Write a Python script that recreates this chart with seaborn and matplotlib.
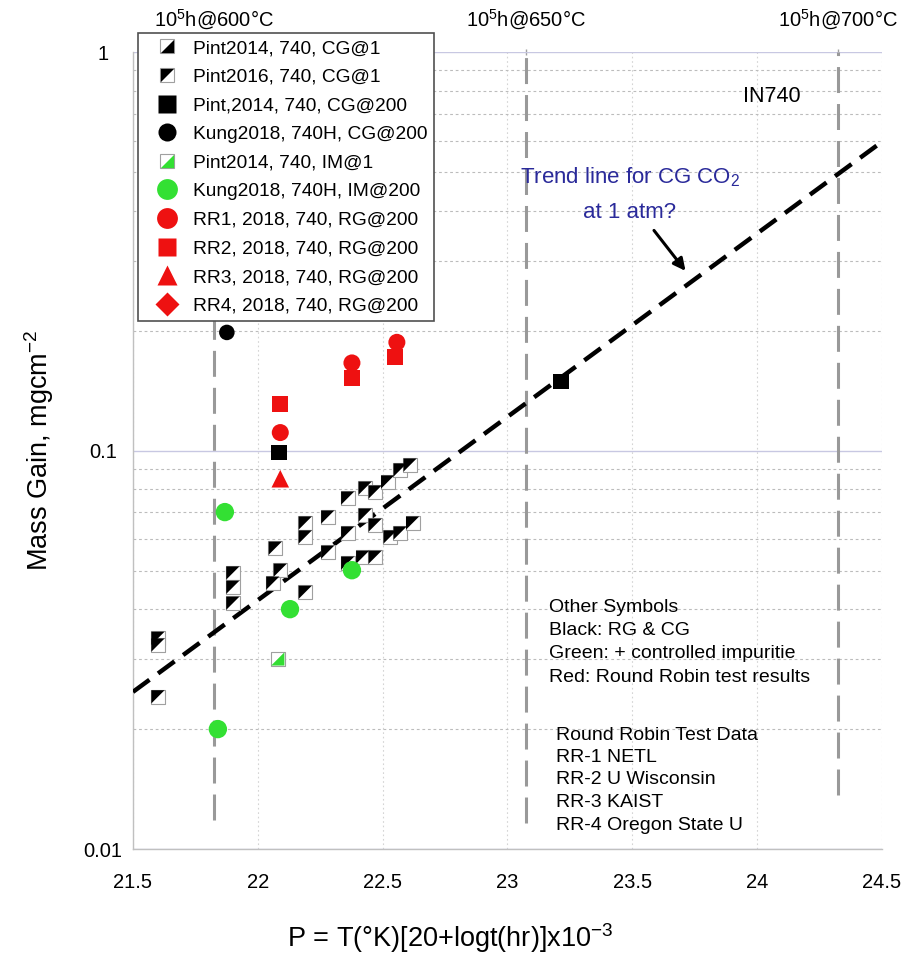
import numpy as np
import pandas as pd
import matplotlib
matplotlib.use("Agg")
import matplotlib.pyplot as plt
import seaborn as sns
from matplotlib.lines import Line2D
from matplotlib.ticker import LogLocator, FixedLocator, NullFormatter

# --- data (P parameter, mass gain mg/cm2) ---
pint2016_cg1_P = [21.60, 21.60, 21.60, 21.90, 21.90, 21.90, 22.07, 22.06, 22.19, 22.19, 22.19,
                  22.28, 22.28, 22.36, 22.36, 22.36, 22.43, 22.43, 22.47, 22.47, 22.52, 22.57]
pint2016_cg1_M = [0.0338, 0.0325, 0.0241, 0.0493, 0.0454, 0.0414, 0.0569, 0.0465, 0.0658, 0.0607, 0.0441,
                  0.0681, 0.0556, 0.0760, 0.0621, 0.0522, 0.0805, 0.0689, 0.0787, 0.0650, 0.0834, 0.0894]
pint2014_cg1_P = [22.09, 22.42, 22.47, 22.53, 22.57, 22.61, 22.62]
pint2014_cg1_M = [0.0501, 0.0540, 0.0540, 0.0607, 0.0621, 0.0920, 0.0658]
pint2014_cg200_P = [22.085, 23.214]
pint2014_cg200_M = [0.099, 0.149]
kung_cg200_P = [21.876]
kung_cg200_M = [0.198]
pint2014_im1_P = [22.08]
pint2014_im1_M = [0.030]
kung_im200_P = [21.868, 21.84, 22.129, 22.377]
kung_im200_M = [0.0701, 0.020, 0.040, 0.0501]
rr1_P = [22.09, 22.377, 22.557]
rr1_M = [0.111, 0.166, 0.187]
rr2_P = [22.09, 22.377, 22.55]
rr2_M = [0.131, 0.152, 0.172]
rr3_P = [22.09]
rr3_M = [0.085]

trend_P = [21.5, 24.5]
trend_M = [0.0248, 0.596]

# 1e5 h at 600/650/700 C  -> P = T(K)*25/1000
ref_P = [21.825, 23.075, 24.325]
ref_labels = ["10$^5$h@600°C", "10$^5$h@650°C", "10$^5$h@700°C"]
ref_bottom = [0.0118, 0.0116, 0.0137]

sns.set_style("white")
plt.rcParams['font.family'] = ['Liberation Sans', 'DejaVu Sans']
plt.rcParams['mathtext.fontset'] = 'custom'
plt.rcParams['mathtext.rm'] = 'Liberation Sans'
for k in ['text.color', 'axes.labelcolor', 'xtick.color', 'ytick.color']:
    plt.rcParams[k] = 'black'

fig = plt.figure(figsize=(9.19, 9.6), dpi=100)
ax = fig.add_axes([0.1447, 0.1156, 0.815, 0.830])
ax.set_yscale('log')
ax.set_xlim(21.5, 24.5)
ax.set_ylim(0.01, 1)

# grid
ax.yaxis.set_major_locator(FixedLocator([0.01, 0.1, 1]))
ax.yaxis.set_minor_locator(LogLocator(base=10, subs=np.arange(2, 10)))
ax.yaxis.set_minor_formatter(NullFormatter())
ax.set_yticks([0.01, 0.1, 1])
ax.set_yticklabels(["0.01", "0.1", "1"], ha='center')
ax.set_xticks([21.5, 22, 22.5, 23, 23.5, 24, 24.5])
ax.set_xticklabels(["21.5", "22", "22.5", "23", "23.5", "24", "24.5"])
ax.grid(which='major', axis='y', color='#c8c8e2', lw=1.0, ls='-')
ax.grid(which='minor', axis='y', color='#bcbcbc', lw=0.8, ls=(0, (2.5, 2.5)))
ax.grid(which='major', axis='x', color='#d4d4d4', lw=0.8, ls=(0, (1.5, 2.5)))
ax.tick_params(axis='x', which='both', length=0, labelsize=14.5, pad=17)
ax.tick_params(axis='y', which='both', length=0, labelsize=14.5, pad=21.6)
for s in ['top', 'right']:
    ax.spines[s].set_visible(False)
for s in ['left', 'bottom']:
    ax.spines[s].set_color('#c0c0c0')
    ax.spines[s].set_linewidth(1.0)

# reference lines (1e5 h)
for p, b in zip(ref_P, ref_bottom):
    ax.plot([p, p], [b, 1], color='#999999', lw=2.2, ls=(0, (8.5, 3.6)), zorder=2)

# trend line
sns.lineplot(x=trend_P, y=trend_M, ax=ax, color='black', lw=3.2, ls=(0, (4.6, 2.4)), zorder=3)

# half-filled square markers
tri_ul = [(-1, 1), (1, 1), (-1, -1), (-1, 1)]
tri_lr = [(1, -1), (1, 1), (-1, -1), (1, -1)]

def half_square(P, M, tri, color, s=95):
    sns.scatterplot(x=P, y=M, ax=ax, marker='s', s=s, color='white',
                    edgecolor='#a0a0a0', linewidth=0.8, zorder=4, legend=False)
    sns.scatterplot(x=P, y=M, ax=ax, marker=tri, s=s * 0.95, color=color,
                    edgecolor='none', linewidth=0, zorder=5, legend=False)

half_square(pint2016_cg1_P, pint2016_cg1_M, tri_ul, 'black')
half_square(pint2014_cg1_P, pint2014_cg1_M, tri_ul, 'black')
half_square(pint2014_im1_P, pint2014_im1_M, tri_lr, '#33dd33')

green = '#33e033'
red = '#ee1111'
sns.scatterplot(x=kung_im200_P, y=kung_im200_M, ax=ax, marker='o', s=175, color=green,
                edgecolor='none', zorder=6, legend=False)
sns.scatterplot(x=kung_cg200_P, y=kung_cg200_M, ax=ax, marker='o', s=125, color='black',
                edgecolor='none', zorder=6, legend=False)
sns.scatterplot(x=pint2014_cg200_P, y=pint2014_cg200_M, ax=ax, marker='s', s=125, color='black',
                edgecolor='none', zorder=6, legend=False)
sns.scatterplot(x=rr2_P, y=rr2_M, ax=ax, marker='s', s=130, color=red,
                edgecolor='none', zorder=6, legend=False)
sns.scatterplot(x=rr1_P, y=rr1_M, ax=ax, marker='o', s=150, color=red,
                edgecolor='none', zorder=7, legend=False)
sns.scatterplot(x=rr3_P, y=rr3_M, ax=ax, marker='^', s=160, color=red,
                edgecolor='none', zorder=6, legend=False)
ax.set_xlabel("")
ax.set_ylabel("")

# top axis with 1e5 h labels
top = ax.secondary_xaxis('top')
top.set_xticks(ref_P)
top.set_xticklabels(ref_labels)
top.tick_params(length=5, width=1, color='#a0a0a0', labelsize=14.5, pad=12, direction='inout')
top.spines['top'].set_visible(False)

# legend
def hs_handle(tri, color):
    a = Line2D([], [], ls='', marker='s', ms=10, mfc='white', mec='#a0a0a0', mew=0.8)
    b = Line2D([], [], ls='', marker=tri, ms=9.5, mfc=color, mec='none')
    return (a, b)

handles = [
    hs_handle(tri_lr, 'black'),
    hs_handle(tri_ul, 'black'),
    Line2D([], [], ls='', marker='s', ms=13, mfc='black', mec='none'),
    Line2D([], [], ls='', marker='o', ms=13, mfc='black', mec='none'),
    hs_handle(tri_lr, green),
    Line2D([], [], ls='', marker='o', ms=15, mfc=green, mec='none'),
    Line2D([], [], ls='', marker='o', ms=15, mfc=red, mec='none'),
    Line2D([], [], ls='', marker='s', ms=13, mfc=red, mec='none'),
    Line2D([], [], ls='', marker='^', ms=14, mfc=red, mec='none'),
    Line2D([], [], ls='', marker='D', ms=12, mfc=red, mec='none'),
]
labels = ["Pint2014, 740, CG@1", "Pint2016, 740, CG@1", "Pint,2014, 740, CG@200",
          "Kung2018, 740H, CG@200", "Pint2014, 740, IM@1", "Kung2018, 740H, IM@200",
          "RR1, 2018, 740, RG@200", "RR2, 2018, 740, RG@200", "RR3, 2018, 740, RG@200",
          "RR4, 2018, 740, RG@200"]
leg = ax.legend(handles, labels, loc='upper left', bbox_to_anchor=(0.0067, 1.0238),
                borderaxespad=0, fontsize=13.8, frameon=True, fancybox=False, framealpha=1,
                edgecolor='#505050', labelspacing=0.585, handletextpad=0.15,
                borderpad=0.33, handlelength=2.4)
leg.get_frame().set_linewidth(1.2)
leg.set_zorder(10)

# annotations
fig.text(0.49, 0.0229, "P = T(°K)[20+logt(hr)]x10$^{-3}$", ha='center', va='center', fontsize=19.5)
fig.text(0.043, 0.531, "Mass Gain, mgcm$^{-2}$", rotation=90, ha='center', va='center', fontsize=19.5)

ax.text(24.06, 0.776, "IN740", ha='center', va='center', fontsize=15.5)
blue = '#2a2a9a'
ax.text(23.49, 0.486, "Trend line for CG CO$_2$", ha='center', va='center', fontsize=16, color=blue)
ax.text(23.49, 0.397, "at 1 atm?", ha='center', va='center', fontsize=16, color=blue)
ax.annotate("", xy=(23.72, 0.279), xytext=(23.58, 0.3616),
            arrowprops=dict(arrowstyle='-|>', color='black', lw=2.2, mutation_scale=18))

other = ["Other Symbols", "Black: RG & CG", "Green: + controlled impuritie",
         "Red: Round Robin test results"]
for i, t in enumerate(other):
    fig.text(549 / 919, 1 - (607 + 23.5 * i) / 960, t, ha='left', va='center', fontsize=14)
rr = ["Round Robin Test Data", "RR-1 NETL", "RR-2 U Wisconsin", "RR-3 KAIST", "RR-4 Oregon State U"]
for i, t in enumerate(rr):
    fig.text(556 / 919, 1 - (735 + 22.5 * i) / 960, t, ha='left', va='center', fontsize=14)

fig.savefig("out.png", dpi=100)
